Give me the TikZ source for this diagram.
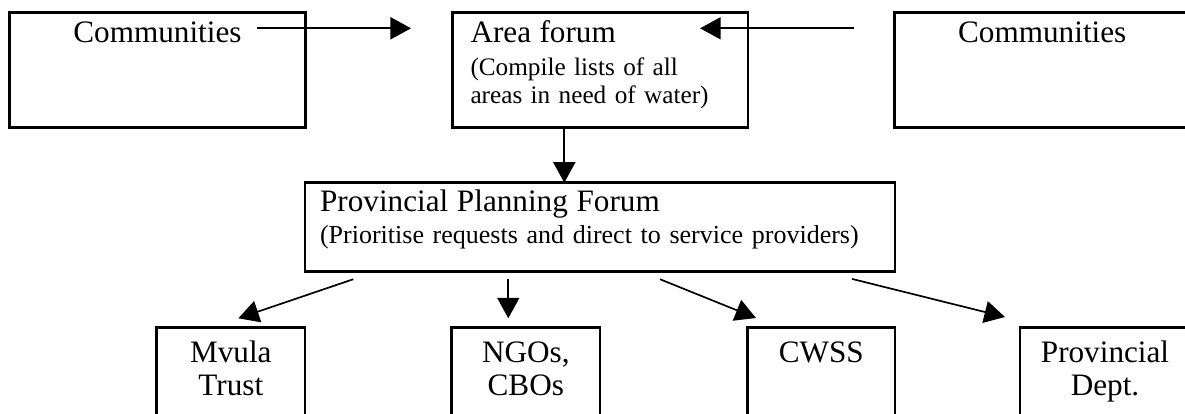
\documentclass[tikz,border=0pt]{standalone}
\usepackage{fontspec}
\setmainfont{Liberation Serif}
\usetikzlibrary{arrows.meta, calc}

\begin{document}
\begin{tikzpicture}[
  x=0.3846pt, y=-0.3846pt,
  box/.style={draw, line width=1pt, outer sep=0pt, inner ysep=0pt,
    anchor=north west, font=\fontsize{12}{13}\selectfont},
  topbox/.style={box, text height=11.5pt, text depth=32.7pt},
  lowbox/.style={box, inner xsep=0pt, align=center, text width=#1,
    text height=13.35pt, text depth=26pt},
  flow/.style={-{Triangle[length=7.9pt, width=8.5pt]}, line width=0.65pt},
]
  \useasboundingbox (0,0) rectangle (1185,414);
  \clip (0,0) rectangle (1185,414);

  \node[topbox, inner xsep=0pt, align=center, text width=113.8pt] (commL) at (9.5,12.7) {Communities};
  \node[topbox, inner xsep=6.85pt, align=left, text width=99.8pt,
    font=\fontsize{9.7}{10.8}\selectfont] (area) at (452.7,12.7) {
    {\fontsize{12}{13}\selectfont Area forum}\\[2pt]
    (Compile lists of all\\
    areas in need of water)
  };
  \node[topbox, inner xsep=0pt, align=center, text width=113.8pt] (commR) at (894.3,12.7) {Communities};

  \node[box, inner xsep=5.8pt, align=left, text width=215.3pt,
    text height=11.15pt, text depth=23.05pt,
    font=\fontsize{10}{11}\selectfont] (ppf) at (305,182.7) {
    {\fontsize{12}{13}\selectfont Provincial Planning Forum}\\[1.4pt]
    (Prioritise requests and direct to service providers)
  };

  \node[lowbox=57pt] (mvula) at (156.7,327.3) {Mvula\\Trust};
  \node[lowbox=57pt] (ngo) at (451.7,327.3) {NGOs,\\CBOs};
  \node[lowbox=56.7pt] (cwss) at (747.6,327.3) {CWSS};
  \node[lowbox=65.4pt] (prov) at (1020,327.3) {Provincial\\Dept.};

  \draw[flow] ($(commL.north east)+(-48,15.6)$) -- ($(area.north west)+(-41.7,15.6)$);
  \draw[flow] ($(commR.north west)+(-40.3,15.6)$) -- ($(area.north east)+(-47.7,15.6)$);
  \draw[flow] ($(area.south west)+(111.6,0)$) coordinate (down) -- (down |- ppf.north);

  \draw[flow] ($(ppf.south west)+(48.3,7.6)$) -- ($(mvula.north)+(7.5,-9)$);
  \draw[flow] ($(ppf.south west)+(203.3,7.6)$) -- ($(ngo.north west)+(56.6,-9)$);
  \draw[flow] ($(ppf.south west)+(355,7.6)$) -- ($(cwss.north west)+(8.4,-9.3)$);
  \draw[flow] ($(ppf.south east)+(-43,7.3)$) -- ($(prov.north west)+(-15,-10.3)$);
\end{tikzpicture}
\end{document}
